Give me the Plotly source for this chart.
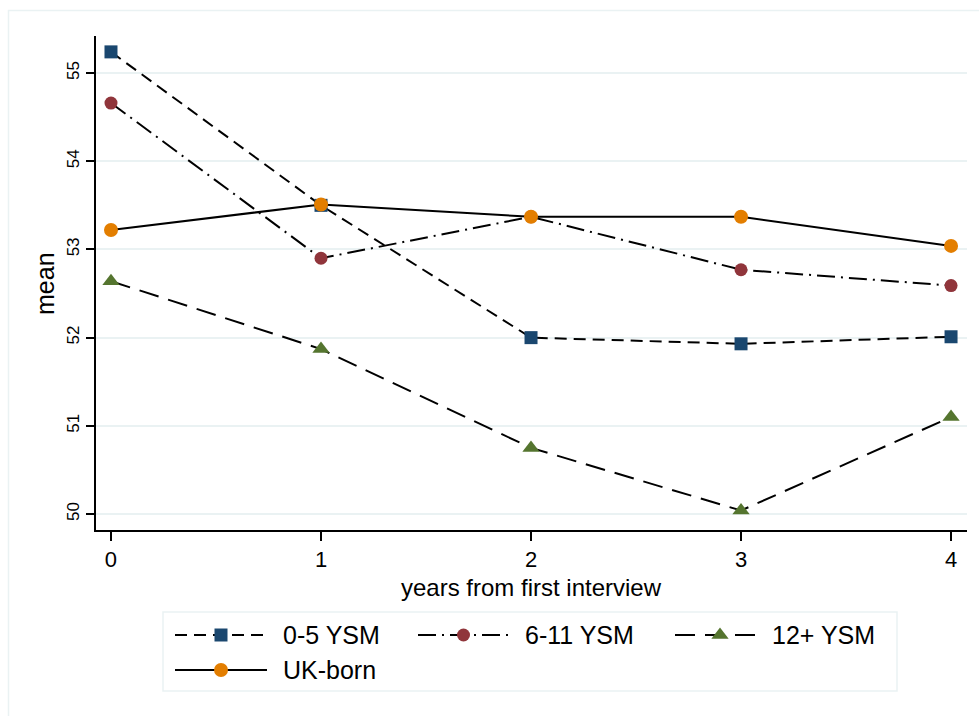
import plotly.graph_objects as go

# Mean score by years since first interview, per migrant group
years = [0, 1, 2, 3, 4]
ysm_0_5 = [55.24, 53.50, 52.00, 51.93, 52.01]
ysm_6_11 = [54.66, 52.90, 53.37, 52.77, 52.59]
ysm_12p = [52.64, 51.87, 50.75, 50.04, 51.10]
uk_born = [53.22, 53.51, 53.37, 53.37, 53.04]

y_ticks = [50, 51, 52, 53, 54, 55]
x_ticks = [0, 1, 2, 3, 4]

W, H = 979, 716
FONT = "Liberation Sans, Arial, sans-serif"
GRID = "#eaf2f3"

series = [
    dict(name="0-5 YSM", y=ysm_0_5, color="#1a476f", symbol="square", size=13, dash="12px,7px"),
    dict(name="6-11 YSM", y=ysm_6_11, color="#90353b", symbol="circle", size=13, dash="18px,6px,2px,6px"),
    dict(name="12+ YSM", y=ysm_12p, color="#55752f", symbol="triangle-up", size=15, dash="20px,10px"),
    dict(name="UK-born", y=uk_born, color="#e37e00", symbol="circle", size=14, dash="solid"),
]

fig = go.Figure()
for s in series:
    fig.add_trace(go.Scatter(
        x=years, y=s["y"], mode="lines+markers", name=s["name"],
        line=dict(color="black", width=2, dash=s["dash"]),
        marker=dict(color=s["color"], symbol=s["symbol"], size=s["size"], line=dict(width=0)),
        showlegend=False, hoverinfo="skip", xaxis="x", yaxis="y",
    ))

# Legend drawn on a pixel-scaled overlay axis
legend_slots = [(175, 267, 283, 635), (418, 509, 525, 635), (675, 765, 772, 635), (175, 267, 283, 670)]
annotations = []
for s, (x0, x1, tx, ty) in zip(series, legend_slots):
    fig.add_trace(go.Scatter(
        x=[x0, x1], y=[ty, ty], mode="lines",
        line=dict(color="black", width=2, dash=s["dash"]),
        showlegend=False, hoverinfo="skip", xaxis="x2", yaxis="y2",
    ))
    fig.add_trace(go.Scatter(
        x=[(x0 + x1) / 2], y=[ty], mode="markers",
        marker=dict(color=s["color"], symbol=s["symbol"], size=s["size"], line=dict(width=0)),
        showlegend=False, hoverinfo="skip", xaxis="x2", yaxis="y2",
    ))
    annotations.append(dict(
        x=tx - 2, y=ty, xref="x2", yref="y2", text=s["name"], showarrow=False,
        xanchor="left", yanchor="middle", font=dict(size=25, color="black", family=FONT),
    ))

annotations.append(dict(
    x=45 / W, y=1 - 284 / H, xref="paper", yref="paper", text="mean", textangle=-90,
    showarrow=False, xanchor="center", yanchor="middle", font=dict(size=25, color="black", family=FONT),
))
annotations.append(dict(
    x=531 / W, y=1 - 587 / H, xref="paper", yref="paper", text="years from first interview",
    showarrow=False, xanchor="center", yanchor="middle", font=dict(size=24, color="black", family=FONT),
))

shapes = [
    # outer frame
    dict(type="rect", xref="paper", yref="paper", x0=8.5 / W, x1=1.02, y0=-0.02, y1=1 - 10.5 / H,
         line=dict(color=GRID, width=1.5), layer="below"),
    # legend box
    dict(type="rect", xref="paper", yref="paper", x0=163 / W, x1=897 / W, y0=1 - 691 / H, y1=1 - 612 / H,
         line=dict(color=GRID, width=1.5), layer="below"),
]

fig.update_layout(
    width=W, height=H,
    margin=dict(l=0, r=0, t=0, b=0),
    paper_bgcolor="white", plot_bgcolor="rgba(0,0,0,0)",
    font=dict(family=FONT, color="black"),
    showlegend=False,
    annotations=annotations,
    shapes=shapes,
    xaxis=dict(
        domain=[96 / W, 967 / W], range=[-0.0714, 4.076], anchor="y",
        tickvals=x_ticks, ticktext=[str(v) for v in x_ticks],
        showgrid=False, zeroline=False, showline=True, linecolor="black", linewidth=1.5,
        ticks="outside", ticklen=9, tickwidth=1.5, tickcolor="black",
        tickfont=dict(size=22, family=FONT, color="black"),
    ),
    yaxis=dict(
        domain=[1 - 530 / H, 1 - 36 / H], range=[49.819, 55.42], anchor="x",
        tickvals=y_ticks, ticktext=[str(v) for v in y_ticks], tickangle=-90,
        showgrid=True, gridcolor=GRID, gridwidth=1.5, zeroline=False,
        showline=True, linecolor="black", linewidth=1.5,
        ticks="outside", ticklen=8, tickwidth=1.5, tickcolor="black",
        tickfont=dict(size=17, family=FONT, color="black"),
    ),
    xaxis2=dict(domain=[0, 1], range=[0, W], anchor="y2", visible=False, fixedrange=True),
    yaxis2=dict(domain=[0, 1], range=[H, 0], anchor="x2", visible=False, fixedrange=True),
)

fig.write_html("out.html", config={"displayModeBar": False})
